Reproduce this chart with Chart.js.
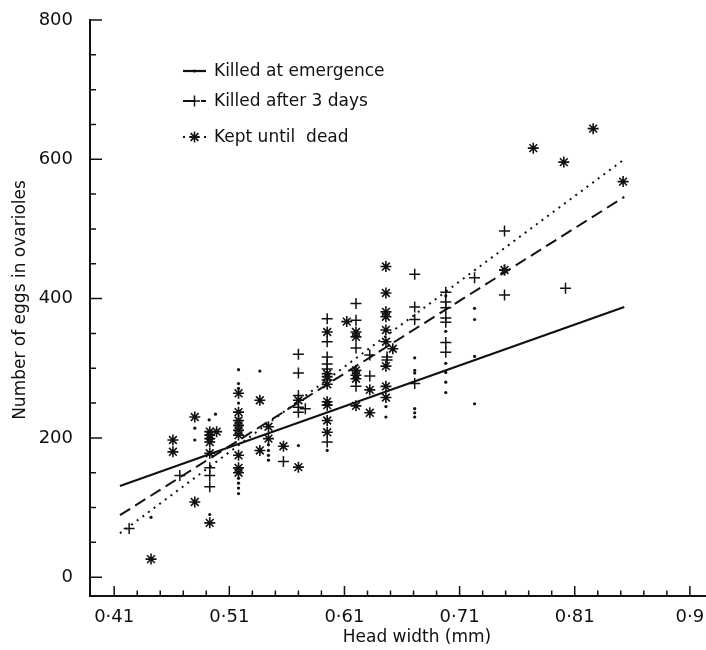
<!DOCTYPE html>
<html>
<head>
<meta charset="utf-8">
<script src="https://cdn.jsdelivr.net/npm/chart.js@4.4.1/dist/chart.umd.min.js"></script>
<style>
  html, body { margin: 0; padding: 0; background: #fff; }
  #wrap { width: 706px; height: 650px; }
</style>
</head>
<body>
<div id="wrap"><canvas id="eggs" width="706" height="650"></canvas></div>
<script>
// head width (mm) against eggs in ovarioles, one array pair per group
const emergenceWidth = [0.442, 0.480, 0.480, 0.4925, 0.493, 0.498,
  0.518, 0.518, 0.518, 0.518, 0.518, 0.518, 0.518, 0.518,
  0.5365, 0.544, 0.544, 0.544, 0.544, 0.570, 0.595, 0.646, 0.646,
  0.671, 0.671, 0.671, 0.671, 0.671, 0.671,
  0.698, 0.698, 0.698, 0.698, 0.698, 0.698,
  0.723, 0.723, 0.723, 0.723];
const emergenceEggs = [86, 214, 197, 226, 90, 234,
  298, 278, 271, 250, 142, 135, 128, 120,
  296, 190, 182, 175, 168, 189, 182, 245, 230,
  315, 297, 293, 242, 236, 230,
  404, 353, 307, 294, 280, 265,
  386, 370, 317, 249];

const threeDayWidth = [0.423, 0.467, 0.493, 0.493, 0.493, 0.557,
  0.570, 0.570, 0.570, 0.570, 0.570, 0.576,
  0.595, 0.595, 0.595, 0.595, 0.595, 0.595, 0.595,
  0.620, 0.620, 0.620, 0.620, 0.632, 0.632, 0.647, 0.647,
  0.671, 0.671, 0.671, 0.671,
  0.698, 0.698, 0.698, 0.698, 0.698, 0.698, 0.698,
  0.723, 0.749, 0.749, 0.749, 0.802];
const threeDayEggs = [70, 146, 157, 146, 130, 166,
  320, 293, 261, 244, 237, 242,
  371, 338, 316, 306, 299, 283, 194,
  393, 369, 329, 274, 319, 289, 316, 312,
  435, 388, 370, 278,
  409, 395, 387, 372, 366, 337, 323,
  430, 497, 441, 405, 415];

const deadWidth = [0.442, 0.461, 0.461, 0.480, 0.480,
  0.493, 0.493, 0.493, 0.493, 0.493, 0.493, 0.499,
  0.518, 0.518, 0.518, 0.518, 0.518, 0.518, 0.518, 0.518, 0.518,
  0.5365, 0.5365, 0.544, 0.544, 0.557, 0.570, 0.570,
  0.595, 0.595, 0.595, 0.595, 0.595, 0.595, 0.595, 0.595,
  0.612, 0.620, 0.620, 0.620, 0.620, 0.620, 0.620, 0.632, 0.632,
  0.646, 0.646, 0.646, 0.646, 0.646, 0.646, 0.646, 0.646, 0.646, 0.652,
  0.749, 0.774, 0.8005, 0.826, 0.852];
const deadEggs = [26, 197, 180, 230, 108,
  209, 204, 199, 194, 178, 78, 209,
  264, 237, 225, 218, 211, 204, 175, 157, 150,
  254, 182, 216, 199, 188, 254, 158,
  352, 292, 288, 277, 252, 247, 225, 208,
  367, 352, 345, 297, 290, 285, 246, 269, 236,
  446, 408, 381, 374, 355, 338, 303, 274, 258, 328,
  441, 616, 596, 644, 568];

// fitted regression lines, ends only
const fitWidth = [0.415, 0.853];
const emergenceFit = [131, 388];
const threeDayFit = [89, 546];
const deadFit = [63, 600];

const xTickValues = [0.41, 0.51, 0.61, 0.71, 0.81, 0.91];
const xTickLabels = ['0·41', '0·51', '0·61', '0·71', '0·81', '0·9'];
const yTickValues = [0, 200, 400, 600, 800];

const groupNames = ['Killed at emergence', 'Killed after 3 days', 'Kept until  dead'];

const INK = '#111';
const FONT = '"DejaVu Sans", sans-serif';

function pairs(xs, ys) {
    return xs.map((x, i) => ({ x: x, y: ys[i] }));
}

// ticks on the inside of both axes, long at labels, short between
const innerTicks = {
    id: 'innerTicks',
    afterDraw(chart) {
        const ctx = chart.ctx;
        const xs = chart.scales.x, ys = chart.scales.y;
        const area = chart.chartArea;
        ctx.save();
        ctx.strokeStyle = INK;
        ctx.lineWidth = 1.5;
        ctx.beginPath();
        for (let i = 0; i < xTickValues.length; i++) {
            const v = xTickValues[i];
            let p = xs.getPixelForValue(v);
            ctx.moveTo(p, area.bottom);
            ctx.lineTo(p, area.bottom - 10);
            if (i < xTickValues.length - 1) {
                const step = (xTickValues[i + 1] - v) / 5;
                for (let k = 1; k < 5; k++) {
                    p = xs.getPixelForValue(v + k * step);
                    ctx.moveTo(p, area.bottom);
                    ctx.lineTo(p, area.bottom - 5.5);
                }
            }
        }
        for (let i = 0; i < yTickValues.length; i++) {
            const v = yTickValues[i];
            let p = ys.getPixelForValue(v);
            ctx.moveTo(area.left, p);
            ctx.lineTo(area.left + 12, p);
            if (i < yTickValues.length - 1) {
                const step = (yTickValues[i + 1] - v) / 4;
                for (let k = 1; k < 4; k++) {
                    p = ys.getPixelForValue(v + k * step);
                    ctx.moveTo(area.left, p);
                    ctx.lineTo(area.left + 6, p);
                }
            }
        }
        ctx.stroke();
        ctx.restore();
    }
};

// axis titles and the key in the upper left
const labelsAndKey = {
    id: 'labelsAndKey',
    afterDraw(chart) {
        const ctx = chart.ctx;
        ctx.save();
        ctx.fillStyle = INK;
        ctx.font = '17px ' + FONT;
        ctx.textAlign = 'center';
        ctx.textBaseline = 'middle';
        ctx.fillText('Head width (mm)', 417, 638);

        ctx.save();
        ctx.translate(21, 300);
        ctx.rotate(-Math.PI / 2);
        ctx.font = '17px ' + FONT;
        ctx.fillText('Number of eggs in ovarioles', 0, 0);
        ctx.restore();

        const rows = [71, 101, 137];
        ctx.font = '17px ' + FONT;
        ctx.textAlign = 'left';
        for (let i = 0; i < 3; i++) {
            const pts = chart.data.datasets[i];
            const line = chart.data.datasets[i + 3];
            const y = rows[i];
            ctx.strokeStyle = INK;
            ctx.lineWidth = line.borderWidth;
            ctx.setLineDash(line.borderDash || []);
            ctx.beginPath();
            ctx.moveTo(183, y);
            ctx.lineTo(206, y);
            ctx.stroke();
            ctx.setLineDash([]);
            ctx.fillStyle = INK;
            ctx.lineWidth = pts.borderWidth;
            Chart.helpers.drawPoint(ctx, {
                pointStyle: pts.pointStyle,
                radius: pts.pointRadius,
                borderWidth: pts.borderWidth,
                rotation: 0
            }, 194.5, y);
            ctx.fillText(groupNames[i], 214, y + 1);
        }
        ctx.restore();
    }
};

new Chart(document.getElementById('eggs'), {
    type: 'scatter',
    data: {
        datasets: [
            {
                label: groupNames[0],
                data: pairs(emergenceWidth, emergenceEggs),
                pointStyle: 'circle',
                pointRadius: 1.6,
                borderWidth: 0,
                backgroundColor: INK,
                borderColor: INK
            },
            {
                label: groupNames[1],
                data: pairs(threeDayWidth, threeDayEggs),
                pointStyle: 'cross',
                pointRadius: 5.5,
                borderWidth: 1.5,
                backgroundColor: INK,
                borderColor: INK
            },
            {
                label: groupNames[2],
                data: pairs(deadWidth, deadEggs),
                pointStyle: 'star',
                pointRadius: 5.5,
                borderWidth: 1.6,
                backgroundColor: INK,
                borderColor: INK
            },
            {
                data: pairs(fitWidth, emergenceFit),
                showLine: true,
                pointRadius: 0,
                borderWidth: 2.2,
                borderColor: INK
            },
            {
                data: pairs(fitWidth, threeDayFit),
                showLine: true,
                pointRadius: 0,
                borderWidth: 2,
                borderDash: [12, 6],
                borderColor: INK
            },
            {
                data: pairs(fitWidth, deadFit),
                showLine: true,
                pointRadius: 0,
                borderWidth: 2,
                borderDash: [2, 5],
                borderColor: INK
            }
        ]
    },
    options: {
        responsive: false,
        animation: false,
        devicePixelRatio: 1,
        layout: {
            autoPadding: false,
            padding: { top: 20, left: 0, right: 0, bottom: 0 }
        },
        plugins: {
            legend: { display: false },
            tooltip: { enabled: false }
        },
        scales: {
            x: {
                type: 'linear',
                min: 0.389,
                max: 0.924,
                afterBuildTicks: (scale) => {
                    scale.ticks = xTickValues.map(v => ({ value: v }));
                },
                afterFit: (scale) => {
                    scale.height = 54;
                    scale.paddingLeft = 0;
                    scale.paddingRight = 0;
                },
                grid: { display: false },
                border: { display: true, color: INK, width: 2 },
                ticks: {
                    maxRotation: 0,
                    autoSkip: false,
                    padding: 3,
                    color: INK,
                    font: { family: FONT, size: 18 },
                    callback: (v, i) => xTickLabels[i]
                }
            },
            y: {
                type: 'linear',
                min: -27,
                max: 800,
                afterBuildTicks: (scale) => {
                    scale.ticks = yTickValues.map(v => ({ value: v }));
                },
                afterFit: (scale) => {
                    scale.width = 90;
                    scale.paddingTop = 0;
                    scale.paddingBottom = 0;
                },
                grid: { display: false },
                border: { display: true, color: INK, width: 2 },
                ticks: {
                    autoSkip: false,
                    padding: 9,
                    color: INK,
                    font: { family: FONT, size: 18 },
                    callback: (v) => String(v)
                }
            }
        }
    },
    plugins: [innerTicks, labelsAndKey]
});
</script>
</body>
</html>
